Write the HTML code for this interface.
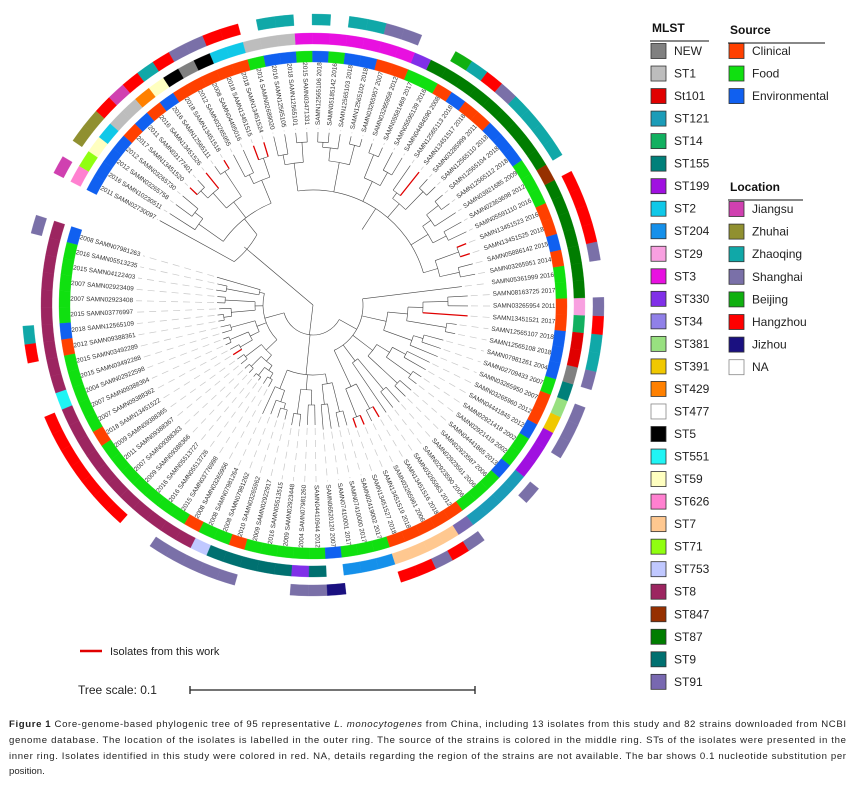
<!DOCTYPE html>
<html><head><meta charset="utf-8"><style>
html,body{margin:0;padding:0;background:#fff;}
svg{display:block;font-family:"Liberation Sans",Arial,sans-serif;}
</style></head><body>
<svg id="fig" width="856" height="798" viewBox="0 0 856 798" xmlns="http://www.w3.org/2000/svg">
<g id="tree"></g>
<g id="tips"></g>
<g id="labels"></g>
<g id="rings"></g>
<g id="legend"></g>
<g>
<line x1="80" y1="651" x2="102" y2="651" stroke="#e00000" stroke-width="2.5"/>
<text x="110" y="655" font-size="11" fill="#222">Isolates from this work</text>
</g>
<g>
<text x="78" y="694" font-size="12" fill="#222">Tree scale: 0.1</text>
<path d="M190,690 H475 M190,686 V694 M475,686 V694" stroke="#222" stroke-width="1.3" fill="none"/>
</g>
<g font-size="9.6" fill="#222">
<text x="9" y="727" textLength="837" lengthAdjust="spacing"><tspan font-weight="bold">Figure 1</tspan> Core-genome-based phylogenic tree of 95 representative <tspan font-style="italic">L. monocytogenes</tspan> from China, including 13 isolates from this study and 82 strains downloaded from NCBI</text>
<text x="9" y="743" textLength="837" lengthAdjust="spacing">genome database. The location of the isolates is labelled in the outer ring. The source of the strains is colored in the middle ring. STs of the isolates were presented in the</text>
<text x="9" y="759" textLength="837" lengthAdjust="spacing">inner ring. Isolates identified in this study were colored in red. NA, details regarding the region of the strains are not available. The bar shows 0.1 nucleotide substitution per</text>
<text x="9" y="774">position.</text>
</g>
</svg>
<script>
const NS="http://www.w3.org/2000/svg";
const cx=313, cy=305;
const START_ANGLE=198, SPAN=351;

const stNames=["NEW","ST1","St101","ST121","ST14","ST155","ST199","ST2","ST204","ST29","ST3","ST330","ST34","ST381","ST391","ST429","ST477","ST5","ST551","ST59","ST626","ST7","ST71","ST753","ST8","ST847","ST87","ST9","ST91"];
const stColors=["#808080","#bdbdbd","#e00000","#1b9cb8","#12b060","#00807a","#a010e0","#10c8e8","#1590ea","#f8a0e0","#e810e0","#8030e8","#9080e8","#98e080","#f0c800","#ff8000","#ffffff","#000000","#20f4f4","#ffffc0","#ff80d0","#ffc890","#90ff10","#c0c8ff","#9c2560","#963000","#007d00","#007070","#7868b0"];
const srcNames=["Clinical","Food","Environmental"];
const srcCodes=["C","F","E"];
const srcColors=["#ff4000","#10e010","#1060f0"];
const locNames=["Jiangsu","Zhuhai","Zhaoqing","Shanghai","Beijing","Hangzhou","Jizhou","NA"];
const locCodes=["G","U","Z","S","B","H","J","-"];
const locColors=["#d040b0","#909030","#10a8a8","#7a70a8","#10b010","#ff0000","#1a1080","#ffffff"];

const leafST=["ST8","ST8","ST8","ST8","ST8","ST8","ST8","ST8","ST8","ST8","ST551",
"ST8","ST8","ST8","ST8","ST8","ST8","ST8","ST8","ST8","ST8","ST8","ST753",
"ST9","ST9","ST9","ST9","ST9","ST330","ST9","ST477","ST204","ST204","ST204",
"ST7","ST7","ST7","ST7","ST91","ST121","ST121","ST121","ST121","ST199","ST199","ST199",
"ST391","ST381","ST155","NEW","St101","St101","ST14","ST29",
"ST87","ST87","ST87","ST87","ST87","ST87","ST87","ST847","ST87","ST87","ST87","ST87","ST87","ST87","ST87","ST87","ST87","ST330",
"ST3","ST3","ST3","ST3","ST3","ST3","ST3","ST1","ST1","ST1","ST2","ST2","ST5","NEW","ST5","ST59","ST429","ST1","ST1","ST2","ST59","ST71","ST626"];
const leafSource=("E"+"FFFFF"+"E"+"C"+"FFFFF"+"C"+"FFFFFFF"+"C"+"FF"+"C"+"FFFFF"+"E"+"FFF"+"CCCCC"+"FFF"+"E"+"FF"+"E"+"CC"+"F"+"EEE"+"CC"+"FF"+"C"+"E"+"CC"+"FFF"+"EEE"+"CC"+"E"+"C"+"FF"+"CC"+"EE"+"F"+"E"+"F"+"EE"+"F"+"CCCCC"+"E"+"C"+"E"+"C"+"EEEE").split("");
const leafLocation=("S"+"-----"+"Z"+"H"+"---"+"HHHHHHH"+"--"+"SSSSS"+"---"+"SS"+"J"+"---"+"HH"+"S"+"H"+"S"+"---"+"S"+"--"+"SSS"+"-"+"S"+"ZZ"+"H"+"S"+"--"+"S"+"HHHH"+"-"+"ZZZZ"+"S"+"H"+"Z"+"B"+"--"+"SS"+"ZZ"+"-"+"Z"+"-"+"ZZ"+"-"+"HH"+"SS"+"H"+"Z"+"H"+"G"+"H"+"UU"+"-"+"G").split("");
const leafIds=["SAMN07981263","SAMN05513235","SAMN04122403","SAMN02923409","SAMN02923408","SAMN03776997","SAMN12565109","SAMN09388361","SAMN03492289","SAMN03492288",
"SAMN02922598","SAMN09388364","SAMN09388362","SAMN13451522","SAMN09388365","SAMN09388367","SAMN09388363","SAMN09388366","SAMN05513727","SAMN05513726",
"SAMN03776998","SAMN03265956","SAMN07981264","SAMN07981262","SAMN03265962","SAMN02922917","SAMN05513515","SAMN02923448","SAMN07981260","SAMN04410944",
"SAMN06520120","SAMN07410001","SAMN07410000","SAMN02419002","SAMN13451527","SAMN13451519","SAMN03265961","SAMN13451516","SAMN03265963","SAMN02923590",
"SAMN02923561","SAMN02923587","SAMN04441865","SAMN02921419","SAMN02921418","SAMN04441845","SAMN03265960","SAMN03265950","SAMN02709433","SAMN07981261",
"SAMN12565108","SAMN12565107","SAMN13451521","SAMN03265954","SAMN08163725","SAMN05361999","SAMN03265951","SAMN05886142","SAMN13451525","SAMN13451523",
"SAMN05591110","SAMN02363698","SAMN03921685","SAMN12565112","SAMN12565104","SAMN12565110","SAMN03285999","SAMN13451517","SAMN12565113","SAMN04484590",
"SAMN05595139","SAMN05581469","SAMN03265958","SAMN03265957","SAMN12565102","SAMN12565103","SAMN05185142","SAMN12565106","SAMN03471331","SAMN12565101",
"SAMN12565105","SAMN02689020","SAMN13451524","SAMN13451515","SAMN04495016","SAMN03265955","SAMN13451518","SAMN12565111","SAMN13451526","SAMN03177401",
"SAMN13451520","SAMN03265730","SAMN03265758","SAMN10230511","SAMN02730097"];
const leafYears=["2008","2016","2015","2007","2007","2015","2018","2012","2015","2015",
"2004","2007","2007","2018","2009","2011","2007","2009","2016","2016",
"2015","2008","2008","2008","2010","2009","2016","2009","2004","2012",
"2007","2017","2017","2017","2018","2018","2006","2018","2012","2006",
"2006","2006","2013","2002","2002","2012","2012","2007","2007","2004",
"2018","2018","2017","2011","2017","2016","2014","2015","2018","2016",
"2016","2012","2009","2018","2018","2018","2011","2018","2018","2008",
"2016","2017","2012","2007","2018","2018","2016","2018","2015","2018",
"2016","2014","2018","2018","2008","2012","2018","2016","2016","2011",
"2017","2012","2012","2016","2011"];

const treeNewick="(("+
"((0:45,(1:10,2:10):33):5,((3:8,4:8):30,(5:12,(6:6,7:6):8):24):8,((8:10,9:10):25,((10:6,11:6):20,(12:10,13:10):14):10):10,((14:8,15:8):20,((16:6,17:6):14,((18:4,19:4):10,(20:8,21:8):6):6):8):15):20,"+
"((22:30,(23:15,(24:10,25:10):6):12):20,((26:12,27:12):25,(28:20,29:20):15):15,((30:25,31:25):20,(32:15,33:15):30):10):40,"+
"(((34:10,35:10):30,(36:12,37:12):28):40,(38:60,(39:20,40:20):40):20,((41:15,42:15):40,((43:10,44:10):30,(45:25,46:25):15):15):25,((47:30,(48:20,49:20):10):30,((50:10,51:10):40,(52:45,(53:20,54:20):25):15):20):25,55:100):20"+
"):30,"+
"(94:85,"+
"(((56:15,57:15):20,(58:10,59:10):25):15,((60:20,61:20):15,(62:25,(63:10,64:10):15):10):20,((65:12,66:12):25,(67:30,68:30):7):18,((69:20,70:20):15,(71:10,72:10):25):22,((73:8,74:8):20,(75:15,(76:10,77:10):5):13):30,((78:10,79:10):20,(80:20,81:20):10):28):25,"+
"(((82:15,83:15):20,(84:25,85:25):10):25,((86:10,87:10):30,(88:20,(89:10,90:10):10):20):20,((91:20,92:20):10,93:30):30):20"+
"):90)";

const N=leafST.length;
function leafAngle(i){return START_ANGLE-(i+0.5)*SPAN/N;}
function pt(r,a){const t=a*Math.PI/180;return [cx+r*Math.cos(t),cy+r*Math.sin(t)];}
function f(v){return v.toFixed(2);}
function isStudy(i){return leafIds[i].indexOf("SAMN134515")===0;}

function parse(s){let i=0;
 function node(){const n={};
  if(s[i]==="("){i++;n.c=[];
   while(true){n.c.push(node());if(s[i]===","){i++;continue;}break;}
   i++;}
  else{let m="";while(/[0-9]/.test(s[i]))m+=s[i++];n.leaf=+m;}
  if(s[i]===":"){i++;let m="";while(/[0-9.]/.test(s[i]))m+=s[i++];n.len=+m;}else n.len=0;
  return n;}
 return node();}
const root=parse(treeNewick);
function lay(n,r0){n.r0=r0;n.r=r0+n.len;
 if(n.c){n.c.forEach(c=>lay(c,n.r));n.a=(n.c[0].a+n.c[n.c.length-1].a)/2;}
 else n.a=leafAngle(n.leaf);}
lay(root,0);

const gTree=document.getElementById("tree"),gTips=document.getElementById("tips"),gLab=document.getElementById("labels"),gRing=document.getElementById("rings"),gLeg=document.getElementById("legend");
function mk(tag,attrs,parent){const e=document.createElementNS(NS,tag);for(const k in attrs)e.setAttribute(k,attrs[k]);parent.appendChild(e);return e;}

function draw(n){
 if(n.len>0){const p0=pt(n.r0,n.a),p1=pt(n.r,n.a);
  const red=(!n.c&&isStudy(n.leaf));
  const e=mk("line",{x1:f(p0[0]),y1:f(p0[1]),x2:f(p1[0]),y2:f(p1[1]),stroke:red?"#e00000":"#444","stroke-width":red?1.3:0.6},gTree);
  
  }
 if(n.c){const a1=n.c[0].a,a2=n.c[n.c.length-1].a;
  if(n.r>0){const p1=pt(n.r,a1),p2=pt(n.r,a2);const large=Math.abs(a1-a2)>180?1:0;
   const e=mk("path",{d:"M"+f(p1[0])+","+f(p1[1])+" A"+n.r+","+n.r+" 0 "+large+" 0 "+f(p2[0])+","+f(p2[1]),fill:"none",stroke:"#444","stroke-width":0.6},gTree);
   
   }
  n.c.forEach(draw);}
 else{const p0=pt(n.r+3,n.a),p1=pt(177,n.a);
  const e=mk("line",{x1:f(p0[0]),y1:f(p0[1]),x2:f(p1[0]),y2:f(p1[1]),stroke:"#c8c8c8","stroke-width":0.7,"stroke-dasharray":"7 5"},gTips);
  
  }
}
draw(root);

for(let i=0;i<N;i++){const a=leafAngle(i);const p=pt(180,a);
 const right=Math.cos(a*Math.PI/180)>=0;
 const t=mk("text",{x:f(p[0]),y:f(p[1]),"font-size":6.4,fill:"#333","dominant-baseline":"central","text-anchor":right?"start":"end",transform:"rotate("+f(right?a:a+180)+" "+f(p[0])+" "+f(p[1])+")"},gLab);
 t.textContent=right?(leafIds[i]+" "+leafYears[i]):(leafYears[i]+" "+leafIds[i]);
 
 }

function sector(r0,r1,a0,a1,color,name){
 const p1=pt(r1,a0),p2=pt(r1,a1),p3=pt(r0,a1),p4=pt(r0,a0);
 const e=mk("path",{d:"M"+f(p1[0])+","+f(p1[1])+" A"+r1+","+r1+" 0 0 0 "+f(p2[0])+","+f(p2[1])+" L"+f(p3[0])+","+f(p3[1])+" A"+r0+","+r0+" 0 0 1 "+f(p4[0])+","+f(p4[1])+" Z",fill:color,stroke:color,"stroke-width":0.3},gRing);
 
 }
const half=SPAN/N/2;
for(let i=0;i<N;i++){const a=leafAngle(i);
 sector(243,254,a+half,a-half,srcColors[srcCodes.indexOf(leafSource[i])],'source-ring-cell');
 const sc=stColors[stNames.indexOf(leafST[i])];
 if(sc!=="#ffffff")sector(261,272,a+half,a-half,sc,'mlst-ring-cell');
 const lc=leafLocation[i];
 if(lc!=="-")sector(280,291,a+half,a-half,locColors[locCodes.indexOf(lc)],'location-ring-cell');}

function header(x,y,w,txt,name){
 const t=mk("text",{x:x,y:y,"font-size":12,"font-weight":"bold",fill:"#111"},gLeg);t.textContent=txt;
 
 
 const l=mk("line",{x1:x-2,y1:y+9,x2:x-2+w,y2:y+9,stroke:"#111","stroke-width":1},gLeg);
 
 }
function entry(x,y,color,txt){
 const r=mk("rect",{x:x,y:y-7.5,width:15,height:15,fill:color,stroke:color==="#ffffff"?"#888":"#333","stroke-width":0.8},gLeg);
 
 
 const t=mk("text",{x:x+23,y:y+4,"font-size":12,fill:"#222"},gLeg);t.textContent=txt;
 
 }
header(652,32,59,"MLST","mlst-legend-title");
stNames.forEach((s,k)=>entry(651,51+k*22.53,stColors[k],s));
header(730,34,97,"Source","source-legend-title");
srcNames.forEach((s,k)=>entry(729,51+k*22.53,srcColors[k],s));
header(730,191,75,"Location","location-legend-title");
locNames.forEach((s,k)=>entry(729,209+k*22.6,locColors[k],s));
</script>
</body></html>
